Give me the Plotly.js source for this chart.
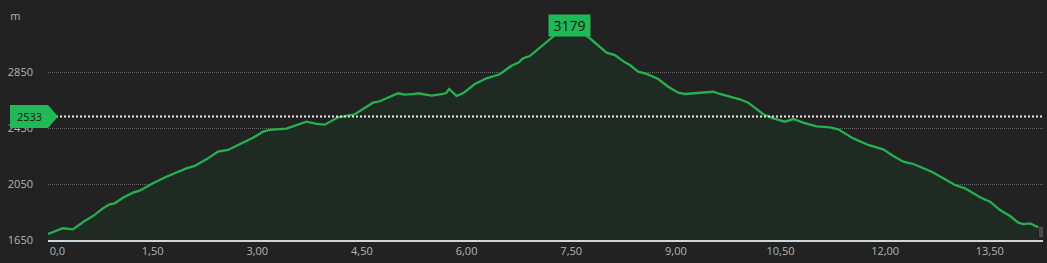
<!DOCTYPE html>
<html><head><meta charset="utf-8">
<script src="https://cdn.plot.ly/plotly-3.0.1.min.js"></script>
<style>html,body{margin:0;padding:0;background:#222222;}#chart{width:1047px;height:263px;}</style>
</head><body><div id="chart"></div>
<script>
// distance (km)
const distanceKm = [0.00,0.214,0.357,0.525,0.644,0.787,0.883,0.955,1.074,1.218,1.314,1.504,1.697,1.840,1.983,2.102,2.270,2.437,2.580,2.748,2.938,3.082,3.178,3.418,3.608,
3.704,3.848,3.967,4.158,4.301,4.397,4.659,4.756,5.018,5.114,5.258,5.305,5.497,5.663,5.712,5.749,5.856,5.950,6.118,6.286,6.477,6.644,6.739,6.811,6.907,7.193,
7.337,7.480,7.624,
7.767,8.007,8.126,8.269,8.341,8.460,8.580,8.747,8.890,9.034,9.130,9.273,9.464,9.535,9.631,9.799,9.918,10.037,10.133,10.253,10.396,10.564,10.683,10.826,11.018,11.209,11.328,
11.543,11.758,11.973,12.117,12.260,12.404,12.498,12.667,12.834,13.001,13.145,13.360,13.504,13.647,13.791,13.910,13.981,14.077,14.196];
// elevation (m)
const elevationM = [1693,1734,1726,1786,1821,1876,1905,1912,1952,1988,2002,2055,2102,2134,2162,2179,2226,2281,2293,2334,2381,2424,2436,2445,2479,
2495,2479,2474,2526,2536,2548,2631,2641,2698,2688,2693,2698,2681,2693,2702,2729,2679,2698,2764,2805,2834,2895,2916,2948,2964,3079,
3143,3179,3143,
3091,2988,2971,2919,2900,2852,2836,2800,2745,2702,2693,2698,2702,2709,2693,2669,2655,2631,2591,2548,2519,2495,2514,2488,2461,2455,2441,
2376,2329,2298,2250,2209,2193,2174,2138,2091,2043,2019,1955,1924,1864,1821,1774,1764,1769,1741];

const xTickVals = [0,1.5,3,4.5,6,7.5,9,10.5,12,13.5];
const xTickText = ['\u2007\u2007\u20070,0','1,50','3,00','4,50','6,00','7,50','9,00','10,50','12,00','13,50'];
const yTickVals = [1650,2050,2450,2850,3250];
const yTickText = ['1650','2050','2450','2850','m\u2007\u2007'];
const peakLabel = '3179';
const peakX = 7.48, peakY = 3179;
const refValue = 2533;
const refLabel = '2533';

const green = '#1fb955';
const trace = {
  x: distanceKm, y: elevationM, type: 'scatter', mode: 'lines',
  line: {color: '#24b14f', width: 2.3},
  fill: 'tozeroy', fillcolor: '#1f2b22',
  hoverinfo: 'skip'
};

const layout = {
  width: 1047, height: 263,
  paper_bgcolor: '#222222', plot_bgcolor: '#222222',
  margin: {l: 48, r: 4, t: 16, b: 23},
  showlegend: false, hovermode: false,
  font: {family: 'Open Sans, sans-serif', size: 11, color: '#b4b4b4'},
  xaxis: {
    range: [0, 14.263], tickvals: xTickVals, ticktext: xTickText,
    showgrid: false, zeroline: false, showline: true, linecolor: '#cfd6da', linewidth: 1.5,
    ticks: '', fixedrange: true, tickfont: {size: 11, color: '#b4b4b4'}
  },
  yaxis: {
    range: [1650, 3250], tickvals: yTickVals, ticktext: yTickText,
    showgrid: true, gridcolor: '#6a6a6a', griddash: '1px,1px', gridwidth: 1,
    zeroline: false, showline: false, ticks: '', ticklabelstandoff: 14,
    fixedrange: true, tickfont: {size: 11, color: '#b4b4b4'}
  },
  shapes: [
    {type: 'line', xref: 'paper', yref: 'y', x0: 0, x1: 1, y0: refValue, y1: refValue,
     line: {color: '#e8e8e8', width: 2, dash: '2px,2px'}, layer: 'above'},
    {type: 'path', xref: 'paper', yref: 'y', xsizemode: 'pixel', ysizemode: 'pixel',
     xanchor: 0, yanchor: refValue,
     path: 'M -38,-11.5 L 0,-11.5 L 10,0 L 0,11.5 L -38,11.5 Z',
     fillcolor: green, line: {width: 0}, layer: 'above'},
    {type: 'rect', xref: 'paper', yref: 'y', xsizemode: 'pixel', ysizemode: 'pixel',
     xanchor: 1, yanchor: 1650, x0: -4, x1: 0, y0: 3, y1: 13,
     fillcolor: '#4a4a4a', line: {width: 0}, layer: 'above'}
  ],
  annotations: [
    {x: peakX, y: peakY, xref: 'x', yref: 'y', text: peakLabel, showarrow: false,
     xanchor: 'center', yanchor: 'middle', bgcolor: green, width: 41, height: 21, borderpad: 0,
     font: {size: 14, color: '#141414'}},
    {x: 0, y: refValue, xref: 'paper', yref: 'y', xshift: -19, text: refLabel, showarrow: false,
     xanchor: 'center', yanchor: 'middle', font: {size: 11, color: '#141414'}}
  ]
};

Plotly.newPlot('chart', [trace], layout, {displayModeBar: false, staticPlot: true});
</script>
</body></html>
